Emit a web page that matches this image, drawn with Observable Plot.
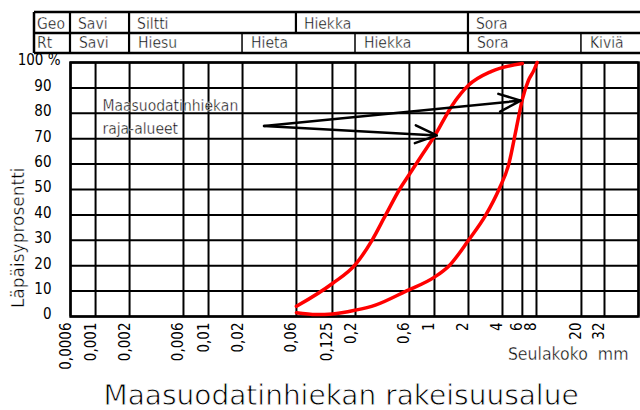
<!DOCTYPE html>
<html><head><meta charset="utf-8">
<script src="https://cdn.jsdelivr.net/npm/d3@7"></script>
<script src="https://cdn.jsdelivr.net/npm/@observablehq/plot@0.6"></script>
<style>body{margin:0;background:#fff}</style>
</head><body><div id="chart"></div>
<script>
(function () {
// Grid / tick values (mm)
const xGrid = [0.0006, 0.001, 0.002, 0.006, 0.01, 0.02, 0.06, 0.125, 0.2, 0.6, 1, 2, 4, 6, 8, 20, 32, 64];
const xLabels = [0.0006, 0.001, 0.002, 0.006, 0.01, 0.02, 0.06, 0.125, 0.2, 0.6, 1, 2, 4, 6, 8, 20, 32];
const yGrid = [0, 10, 20, 30, 40, 50, 60, 70, 80, 90, 100];
const yLabels = [0, 10, 20, 30, 40, 50, 60, 70, 80, 90];

// Limit curves (sieve size mm, passing %)
const upperSize = [0.06, 0.125, 0.2, 0.28, 0.37, 0.49, 0.6, 0.76, 1, 1.43, 2, 3.2, 6];
const upperPass = [4, 13, 20.5, 30, 40, 50, 56, 63, 71, 83, 91, 96.5, 99.6];
const lowerSize = [0.06, 0.09, 0.125, 0.2, 0.3, 0.56, 1, 1.35, 2, 2.85, 3.72, 4.55, 5.3, 6, 6.8, 7.6, 8.1];
const lowerPass = [1.5, 0.8, 1, 2.5, 4.5, 10, 15.5, 20, 30, 40, 50, 60, 74, 85.5, 93, 97, 100];

// Header table
const geoLabels = ["Savi", "Siltti", "Hiekka", "Sora"];
const geoBreaks = [0.0006, 0.002, 0.06, 2, 64];
const rtLabels = ["Savi", "Hiesu", "Hieta", "Hiekka", "Sora", "Kiviä"];
const rtBreaks = [0.0006, 0.002, 0.02, 0.2, 2, 20, 64];

// Annotation
const annotLines = ["Maasuodatinhiekan", "raja-alueet"];
const annotX = [0.00115, 0.00115];
const annotY = [83, 74];
const arrowStart = [0.031, 75];
const arrowEndX = [5.8, 1.05];
const arrowEndY = [85, 71.3];

const title = "Maasuodatinhiekan rakeisuusalue";
const xTitle = "Seulakoko  mm";
const yTitle = "Läpäisyprosentti";

const upper = upperSize.map((s, i) => ({size: s, pass: upperPass[i]}));
const lower = lowerSize.map((s, i) => ({size: s, pass: lowerPass[i]}));
const arrows = arrowEndX.map((x, i) => ({x1: arrowStart[0], y1: arrowStart[1], x2: x, y2: arrowEndY[i]}));
const annots = annotLines.map((t, i) => ({t, x: annotX[i], y: annotY[i]}));
const thin = "DejaVu Sans, sans-serif";
const cond = "DejaVu Sans Condensed, DejaVu Sans, sans-serif";
const narrow = "Liberation Sans Narrow, DejaVu Sans Condensed, sans-serif";
// thin-stroke look: erode glyphs slightly with a white stroke painted over the fill
const thinText = {stroke: "white", strokeWidth: 0.38, paintOrder: "fill", fill: "black"};
const fmt = d => String(d).replace(".", ",");

const plot = Plot.plot({
  width: 640, height: 410,
  marginLeft: 70, marginRight: 2, marginTop: 62, marginBottom: 94,
  style: {background: "white", fontFamily: narrow, fontSize: "15px", color: "black"},
  x: {type: "log", domain: [0.0006, 64], axis: null},
  y: {domain: [0, 100], axis: null},
  marks: [
    Plot.ruleX(xGrid, {stroke: "black", strokeWidth: 2}),
    Plot.ruleY(yGrid, {stroke: "black", strokeWidth: 2}),
    Plot.frame({stroke: "black", strokeWidth: 2.5}),
    Plot.line(upper, {x: "size", y: "pass", stroke: "#ff0000", strokeWidth: 3.5, curve: "monotone-x"}),
    Plot.line(lower, {x: "size", y: "pass", stroke: "#ff0000", strokeWidth: 3.5, curve: "monotone-x"}),
    Plot.arrow(arrows, {x1: "x1", y1: "y1", x2: "x2", y2: "y2", stroke: "black", strokeWidth: 2.5, headLength: 14, headAngle: 45}),
    Plot.text(annots, {x: "x", y: "y", text: "t", textAnchor: "start", fontSize: 15.5, fontFamily: cond, ...thinText}),
    // x tick labels
    Plot.text(xLabels, {x: d => d, frameAnchor: "bottom", text: fmt, rotate: -90, textAnchor: "end",
      dy: 6, fontSize: 15, fontFamily: narrow}),
    // y tick labels
    Plot.text(yLabels, {y: d => d, frameAnchor: "left", text: d => String(d), textAnchor: "end",
      dx: -19, dy: -2, fontSize: 15, fontFamily: narrow}),
    Plot.text([100], {y: d => d, frameAnchor: "left", text: () => "100 %", textAnchor: "end",
      dx: -10, dy: -2, fontSize: 15, fontFamily: narrow}),
    Plot.text([yTitle], {x: () => xGrid[0], y: () => 31, text: d => d, rotate: -90, dx: -52, fontSize: 17, fontFamily: thin, ...thinText}),
    Plot.text([xTitle], {frameAnchor: "bottom-right", text: d => d, textAnchor: "end", dx: -10, dy: 43, fontSize: 17.5, fontFamily: cond, ...thinText}),
    Plot.text([title], {frameAnchor: "bottom-left", text: d => d, textAnchor: "start", dx: 33, dy: 88, fontSize: 28, fontFamily: thin, ...thinText, strokeWidth: 0.8})
  ]
});

// Header table positioned with the plot's own x scale
const sx = plot.scale("x");
const svg = d3.select(plot);
const rowTop = 12, rowMid = 33, rowBot = 53;
const hLeft = sx.apply(0.0006) - 36, hRight = 640;
const g = svg.append("g").attr("font-family", cond).attr("font-size", 15.5).attr("text-anchor", "start")
  .attr("fill", "black").attr("stroke", "white").attr("stroke-width", 0.38).attr("paint-order", "fill");
const lg = svg.append("g").attr("stroke", "black");
[rowTop, rowMid, rowBot].forEach(y => lg.append("line").attr("x1", hLeft).attr("x2", hRight).attr("y1", y).attr("y2", y).attr("stroke-width", 2.5));
lg.append("line").attr("x1", hLeft).attr("x2", hLeft).attr("y1", rowTop).attr("y2", rowBot).attr("stroke-width", 2.5);
geoBreaks.slice(0, -1).forEach(b => lg.append("line").attr("x1", sx.apply(b)).attr("x2", sx.apply(b)).attr("y1", rowTop).attr("y2", rowMid).attr("stroke-width", 2.2));
rtBreaks.slice(0, -1).forEach(b => lg.append("line").attr("x1", sx.apply(b)).attr("x2", sx.apply(b)).attr("y1", rowMid).attr("y2", rowBot).attr("stroke-width", geoBreaks.includes(b) ? 2.2 : 1.5));
g.append("text").attr("x", hLeft + 3).attr("y", 29).text("Geo");
g.append("text").attr("x", hLeft + 3).attr("y", 48).text("Rt");
geoLabels.forEach((t, i) => g.append("text").attr("x", sx.apply(geoBreaks[i]) + 8).attr("y", 29).text(t));
rtLabels.forEach((t, i) => g.append("text").attr("x", sx.apply(rtBreaks[i]) + 9).attr("y", 48).text(t));

document.getElementById("chart").appendChild(plot);
})();
</script>
</body></html>
